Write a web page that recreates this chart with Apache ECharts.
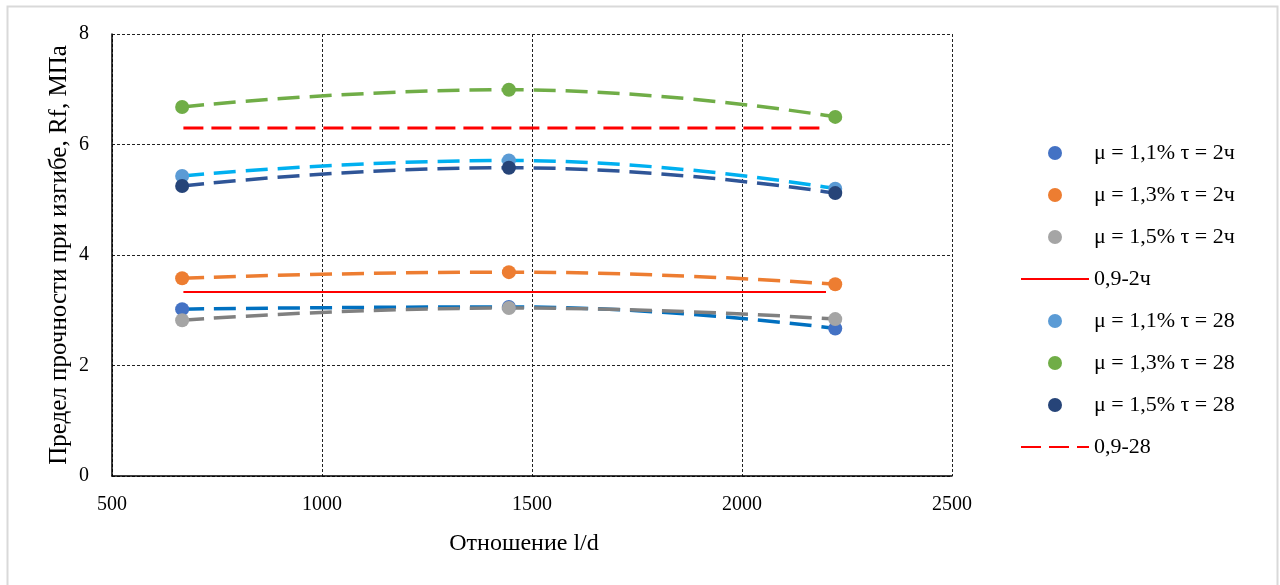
<!DOCTYPE html>
<html>
<head>
<meta charset="utf-8">
<script src="https://cdn.jsdelivr.net/npm/echarts@6/dist/echarts.min.js"></script>
<style>
html,body{margin:0;padding:0;background:#fff;}
#chart{width:1280px;height:585px;}
</style>
</head>
<body>
<div id="chart"></div>
<script>
// Data
const xValues = [667, 1445, 2222];
const mu11_t2 = [3.02, 3.06, 2.67];
const mu13_t2 = [3.58, 3.69, 3.47];
const mu15_t2 = [2.82, 3.04, 2.84];
const mu11_t28 = [5.43, 5.71, 5.20];
const mu13_t28 = [6.68, 6.99, 6.50];
const mu15_t28 = [5.25, 5.58, 5.12];
const refX = [670, 2200];
const ref09_2h = [3.33, 3.33];
const ref09_28 = [6.30, 6.30];
const xTicks = [500, 1000, 1500, 2000, 2500];
const yTicks = [0, 2, 4, 6, 8];

const names = ['μ = 1,1% τ = 2ч', 'μ = 1,3% τ = 2ч', 'μ = 1,5% τ = 2ч', '0,9-2ч',
               'μ = 1,1% τ = 28', 'μ = 1,3% τ = 28', 'μ = 1,5% τ = 28', '0,9-28'];

const pts = (ys) => xValues.map((x, i) => [x, ys[i]]);
const refPts = (ys) => refX.map((x, i) => [x, ys[i]]);

const font = 'Liberation Serif, Times New Roman, serif';

function trend(name, ys, color) {
  return {
    name: name, type: 'line', data: pts(ys), smooth: 0.5, symbol: 'none',
    lineStyle: {color: color, width: 3.5, type: [22, 10]}, z: 2, silent: true
  };
}
function dots(name, ys, color) {
  return {
    name: name, type: 'scatter', data: pts(ys), symbol: 'circle', symbolSize: 14,
    itemStyle: {color: color, opacity: 1}, z: 5
  };
}

const chart = echarts.init(document.getElementById('chart'), null, {renderer: 'canvas'});
chart.setOption({
  animation: false,
  backgroundColor: '#fff',
  graphic: [{
    type: 'rect', left: 5, top: 4, z: -10,
    shape: {width: 1270, height: 580},
    style: {fill: 'none', stroke: '#d9d9d9', lineWidth: 2}
  }],
  grid: {left: 112, top: 34, width: 840, height: 442, containLabel: false},
  legend: {
    orient: 'vertical', left: 1015, top: 136,
    data: names,
    itemWidth: 68, itemHeight: 14, itemGap: 18,
    textStyle: {fontFamily: font, fontSize: 22, color: '#000', lineHeight: 24}
  },
  xAxis: {
    type: 'value', min: 500, max: 2500, interval: 500,
    name: 'Отношение l/d', nameLocation: 'middle', nameGap: 56,
    nameTextStyle: {fontFamily: font, fontSize: 24, color: '#000', padding: [0, 16, 0, 0]},
    axisLine: {show: true, onZero: false, lineStyle: {color: '#000', width: 1.5}},
    axisTick: {show: false},
    axisLabel: {fontFamily: font, fontSize: 20, color: '#000', margin: 19,
      formatter: (v) => xTicks.includes(v) ? String(v) : ''},
    splitLine: {show: true, lineStyle: {color: '#222', width: 1, type: [3, 2]}}
  },
  yAxis: {
    type: 'value', min: 0, max: 8, interval: 2,
    name: 'Предел прочности при изгибе, Rf, МПа', nameLocation: 'middle', nameGap: 40,
    nameMoveOverlap: false,
    nameTextStyle: {fontFamily: font, fontSize: 25, color: '#000'},
    axisLine: {show: true, lineStyle: {color: '#000', width: 1.5}},
    axisTick: {show: false},
    axisLabel: {fontFamily: font, fontSize: 20, color: '#000', margin: 23,
      formatter: (v) => yTicks.includes(v) ? String(v) : ''},
    splitLine: {show: true, lineStyle: {color: '#222', width: 1, type: [3, 2]}}
  },
  series: [
    trend('tr1', mu11_t2, '#0070C0'),
    trend('tr2', mu13_t2, '#ED7D31'),
    trend('tr3', mu15_t2, '#808080'),
    trend('tr4', mu11_t28, '#00B0F0'),
    trend('tr5', mu13_t28, '#70AD47'),
    trend('tr6', mu15_t28, '#2F5597'),
    dots(names[0], mu11_t2, '#4472C4'),
    dots(names[1], mu13_t2, '#ED7D31'),
    dots(names[2], mu15_t2, '#A5A5A5'),
    {name: names[3], type: 'line', data: refPts(ref09_2h), symbol: 'none',
     lineStyle: {color: '#FF0000', width: 2, type: 'solid'},
     itemStyle: {color: '#FF0000', opacity: 0}, z: 3},
    dots(names[4], mu11_t28, '#5B9BD5'),
    dots(names[5], mu13_t28, '#70AD47'),
    dots(names[6], mu15_t28, '#264478'),
    {name: names[7], type: 'line', data: refPts(ref09_28), symbol: 'none',
     lineStyle: {color: '#FF0000', width: 3, type: [20, 8]},
     itemStyle: {color: '#FF0000', opacity: 0}, z: 3}
  ]
});
</script>
</body>
</html>
